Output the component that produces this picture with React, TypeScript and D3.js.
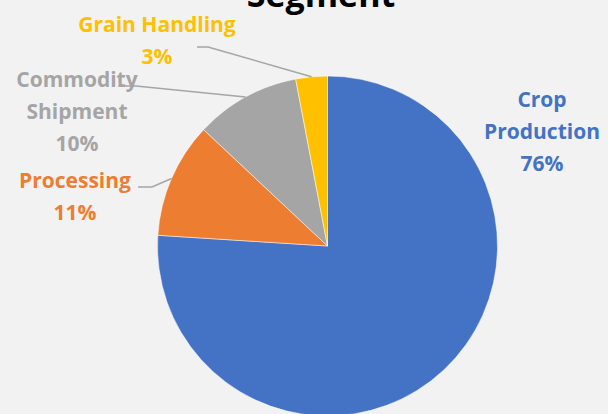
import React from "react";
import * as d3 from "d3";

const categories = ["Crop Production", "Processing", "Commodity Shipment", "Grain Handling"];
const values = [76, 11, 10, 3];
const labelLines = [["Crop", "Production"], ["Processing"], ["Commodity", "Shipment"], ["Grain Handling"]];
const colors = ["#4472C4", "#ED7D31", "#A5A5A5", "#FFC000"];
const title = "Segment";

// layout: label block centre x, first baseline y, leader start/elbow
const labelLayout = [
  { x: 542, y: 107, leader: null as null | number[][] },
  { x: 75, y: 188, leader: [[138, 187], [152, 187]] },
  { x: 77, y: 87, leader: [[118, 86], [136, 86]] },
  { x: 157, y: 32, leader: [[197, 47], [208, 47]] },
];

const W = 608, H = 414;
const cx = 327.5, cy = 246, R = 170;
const lineH = 32;

export default function App() {
  const total = d3.sum(values);
  const pie = d3.pie<number>().sort(null).value((d) => d)(values);
  const arc = d3.arc<d3.PieArcDatum<number>>().innerRadius(0).outerRadius(R);
  const edge = d3.arc<d3.PieArcDatum<number>>().innerRadius(R).outerRadius(R);
  const fmt = d3.format(".0%");
  return (
    <svg width={W} height={H} style={{ position: "absolute", left: 0, top: 0, display: "block" }}
      fontFamily="'Open Sans', sans-serif">
      <rect width={W} height={H} fill="#F2F2F2" />
      <text x={321} y={7} textAnchor="middle" fontSize={34} fontWeight={700} fill="#000">{title}</text>
      <g transform={`translate(${cx},${cy})`}>
        {pie.map((p, i) => (
          <path key={i} d={arc(p) || ""} fill={colors[i]} stroke="#ffffff" strokeWidth={0.5} />
        ))}
      </g>
      {pie.map((p, i) => {
        const L = labelLayout[i];
        if (!L.leader) return null;
        const [ex, ey] = edge.centroid(p);
        const pts = [...L.leader, [cx + ex, cy + ey]];
        return <path key={"l" + i} d={d3.line()(pts as [number, number][]) || ""} fill="none" stroke="#A5A5A5" strokeWidth={1.5} />;
      })}
      {categories.map((c, i) => {
        const L = labelLayout[i];
        const lines = [...labelLines[i], fmt(values[i] / total)];
        return (
          <text key={c} textAnchor="middle" fontSize={21} fontWeight={700} fill={colors[i]}>
            {lines.map((t, j) => (
              <tspan key={j} x={L.x} y={L.y + j * lineH}>{t}</tspan>
            ))}
          </text>
        );
      })}
    </svg>
  );
}
